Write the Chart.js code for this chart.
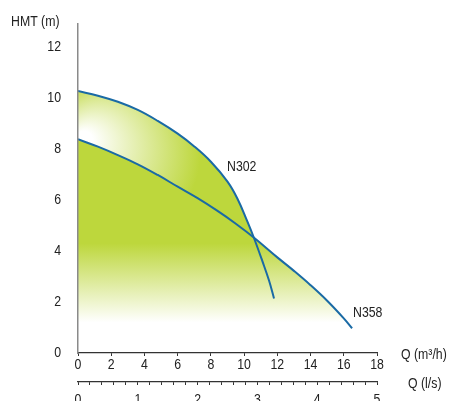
<!DOCTYPE html>
<html>
<head>
<meta charset="utf-8">
<script src="https://cdn.jsdelivr.net/npm/chart.js@4/dist/chart.umd.min.js"></script>
<style>
  html, body { margin: 0; padding: 0; background: #fff; overflow: hidden; }
  #wrap { width: 449px; height: 401px; }
</style>
</head>
<body>
<div id="wrap"><canvas id="grafico" width="449" height="401"></canvas></div>
<script>
// valores
const qN302 = [0, 1.2, 2.4, 3.6, 4.8, 6, 7, 8, 9, 9.6, 10.2, 10.6, 11.1, 11.5, 11.8];
const hN302 = [10.27, 10.09, 9.85, 9.53, 9.1, 8.6, 8.1, 7.5, 6.72, 6.05, 5.15, 4.5, 3.6, 2.84, 2.14];
const qN358 = [0, 1.2, 2.4, 3.6, 4.8, 6, 7.2, 8.4, 9.5, 10.6, 12, 13, 14, 15, 16, 16.5];
const hN358 = [8.38, 8.09, 7.76, 7.4, 6.98, 6.52, 6.07, 5.57, 5.07, 4.52, 3.75, 3.22, 2.66, 2.05, 1.36, 0.97];
const yTicks = [0, 2, 4, 6, 8, 10, 12];
const qLsLabels = [0, 1, 2, 3, 4, 5];

const verde = "#bdd73c";
const azul = "#1a6aa5";
const fonte = "'Liberation Sans', Arial, sans-serif";
const aperto = 0.82; // compressão horizontal do texto (fonte condensada)

const pontos = (xs, ys) => xs.map((x, i) => ({ x: x, y: ys[i] }));

// degradê vertical da área de baixo (N358)
function fundoN358(context) {
  const chart = context.chart;
  if (!chart.chartArea) return verde;
  const y = chart.scales.y;
  const g = chart.ctx.createLinearGradient(0, y.getPixelForValue(4.3), 0, y.getPixelForValue(1.2));
  g.addColorStop(0, verde);
  g.addColorStop(1, "#ffffff");
  return g;
}

// degradê radial da faixa entre as curvas (N302), branco junto ao eixo
function fundoN302(context) {
  const chart = context.chart;
  if (!chart.chartArea) return verde;
  const x = chart.scales.x, y = chart.scales.y;
  const g = chart.ctx.createRadialGradient(
    x.getPixelForValue(0.1), y.getPixelForValue(8.43), 0,
    x.getPixelForValue(3.13), y.getPixelForValue(7.49), 110
  );
  g.addColorStop(0, "#ffffff");
  g.addColorStop(0.08, "#ffffff");
  g.addColorStop(0.75, verde);
  g.addColorStop(1, verde);
  return g;
}

function texto(ctx, s, x, y, tam, alinh) {
  ctx.save();
  ctx.font = tam + "px " + fonte;
  ctx.textAlign = alinh;
  ctx.textBaseline = "middle";
  ctx.translate(x, y);
  ctx.scale(aperto, 1);
  ctx.fillText(s, 0, 0);
  ctx.restore();
}

const textos = {
  id: "textos",
  afterDraw(chart) {
    const ctx = chart.ctx;
    const x = chart.scales.x, x2 = chart.scales.x2, y = chart.scales.y;
    ctx.save();
    ctx.fillStyle = "#222";
    y.ticks.forEach(t => texto(ctx, String(t.value), 61, y.getPixelForValue(t.value), 15, "right"));
    x.ticks.forEach(t => texto(ctx, String(t.value), x.getPixelForValue(t.value), 365, 15, "center"));
    qLsLabels.forEach(v => texto(ctx, String(v), x2.getPixelForValue(v), 400, 15, "center"));
    texto(ctx, "HMT (m)", 11, 22, 15, "left");
    texto(ctx, "Q (m³/h)", 401, 355, 15, "left");
    texto(ctx, "Q (l/s)", 408, 384, 15, "left");
    texto(ctx, "N302", 227, 167, 15, "left");
    texto(ctx, "N358", 353, 313, 15, "left");
    ctx.restore();
  }
};

new Chart(document.getElementById("grafico"), {
  type: "line",
  data: {
    datasets: [
      {
        label: "N358",
        data: pontos(qN358, hN358),
        borderColor: azul,
        borderWidth: 2,
        pointRadius: 0,
        tension: 0.4,
        fill: "origin",
        backgroundColor: fundoN358
      },
      {
        label: "N302",
        data: pontos(qN302, hN302),
        borderColor: azul,
        borderWidth: 2,
        pointRadius: 0,
        tension: 0.4,
        fill: "origin",
        backgroundColor: fundoN302
      }
    ]
  },
  options: {
    responsive: false,
    animation: false,
    layout: { padding: { top: 24, right: 72, left: 0, bottom: 0 } },
    plugins: {
      legend: { display: false },
      tooltip: { enabled: false },
      filler: { drawTime: "beforeDatasetsDraw" }
    },
    scales: {
      x: {
        type: "linear",
        position: "bottom",
        min: 0,
        max: 18,
        ticks: { stepSize: 2, display: false },
        grid: { z: 1, drawOnChartArea: false, drawTicks: true, tickLength: 3, color: "#333" },
        border: { z: 1, color: "#333", width: 1.2 },
        afterFit: (s) => { s.height = 29; }
      },
      x2: {
        type: "linear",
        position: "bottom",
        min: 0,
        max: 5,
        ticks: { stepSize: 0.2, autoSkip: false, display: false },
        grid: { z: 1, drawOnChartArea: false, drawTicks: true, tickLength: 3, color: "#333" },
        border: { z: 1, color: "#333", width: 1.2 },
        afterFit: (s) => { s.height = 19; }
      },
      y: {
        min: 0,
        max: 12.9,
        ticks: { display: false },
        afterBuildTicks: (s) => { s.ticks = yTicks.map(v => ({ value: v })); },
        grid: { display: false, drawTicks: false },
        border: { z: 1, color: "#8a8a8a", width: 1.5 },
        afterFit: (s) => { s.width = 78; }
      }
    }
  },
  plugins: [textos]
});
</script>
</body>
</html>
